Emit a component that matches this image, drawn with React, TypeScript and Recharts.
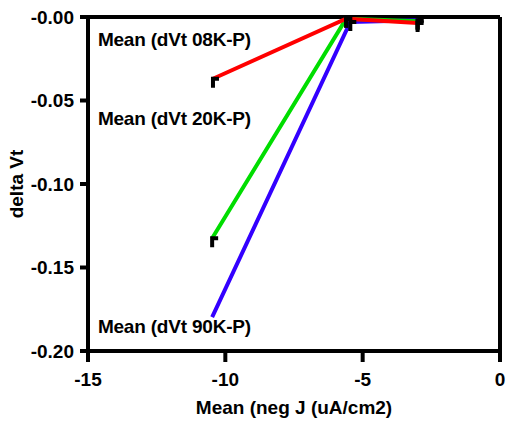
import React from 'react';
import { LineChart, Line, XAxis, YAxis, ReferenceLine, ReferenceDot, Label } from 'recharts';

// ---- data ----
const xTicks = [-15, -10, -5, 0];
const yTicks = [-0.2, -0.15, -0.1, -0.05, 0];
const yTickLabels = ['-0.20', '-0.15', '-0.10', '-0.05', '-0.00'];

const seriesNames = ['Mean (dVt 08K-P)', 'Mean (dVt 20K-P)', 'Mean (dVt 90K-P)'];
const seriesColors = ['#FF0000', '#00DD00', '#3300FF'];

const x08 = [-10.45, -5.6, -3.0];
const y08 = [-0.037, -0.001, -0.0036];
const e08 = [1, 1, 1];

const x20 = [-10.48, -5.6, -3.0];
const y20 = [-0.1325, -0.001, -0.0025];
const e20 = [1, 1, 1];

const x90 = [-10.48, -5.45, -3.0];
const y90 = [-0.1797, -0.003, -0.002];
const e90 = [0, 1, 1];

// label anchor positions (data coords)
const labelX = [-14.64, -14.64, -14.64];
const labelY = [-0.0131, -0.0609, -0.1852];

const build = (xs: number[], ys: number[], es: number[]) =>
  xs.map((x, i) => ({ x, y: ys[i], e: es[i] }));

const d08 = build(x08, y08, e08);
const d20 = build(x20, y20, e20);
const d90 = build(x90, y90, e90);

const FONT = '"Liberation Sans", Arial, sans-serif';
const FS = 19;

const ErrDot = (props: any) => {
  const { cx, cy, payload } = props;
  if (!payload || !payload.e || cx == null || cy == null) return <g />;
  return (
    <path
      d={`M${cx},${cy + 9} L${cx},${cy} L${cx + 6},${cy}`}
      stroke="#000"
      strokeWidth={4}
      fill="none"
    />
  );
};

const makeLabel = (text: string) => (props: any) => {
  const { cx, cy } = props;
  return (
    <text
      x={cx}
      y={cy}
      dy="0.35em"
      textAnchor="start"
      fontFamily={FONT}
      fontWeight="bold"
      fontSize={FS}
      letterSpacing={-0.2}
      fill="#000"
    >
      {text}
    </text>
  );
};

const yFmt = (v: number) => {
  const i = yTicks.findIndex((t) => Math.abs(t - v) < 1e-9);
  return i >= 0 ? yTickLabels[i] : String(v);
};

export default function App() {
  const tickStyle = { fontFamily: FONT, fontWeight: 'bold' as const, fontSize: FS, fill: '#000' };
  return (
    <div style={{ position: 'absolute', left: 0, top: 0, background: '#fff' }}>
      <LineChart
        width={509}
        height={423}
        margin={{ top: 17, right: 9, left: 0, bottom: 0 }}
      >
        <XAxis
          type="number"
          dataKey="x"
          domain={[-15, 0]}
          ticks={xTicks}
          allowDataOverflow
          axisLine={{ stroke: '#000', strokeWidth: 4 }}
          tickLine={{ stroke: '#000', strokeWidth: 4 }}
          tickSize={11}
          tickMargin={11}
          tick={tickStyle}
          height={72}
        >
          <Label
            value="Mean (neg J (uA/cm2)"
            position="insideBottom"
            offset={9}
            style={{ fontFamily: FONT, fontWeight: 'bold', fontSize: FS, fill: '#000' }}
          />
        </XAxis>
        <YAxis
          type="number"
          dataKey="y"
          domain={[-0.2, 0]}
          ticks={yTicks}
          allowDataOverflow
          tickFormatter={yFmt}
          axisLine={{ stroke: '#000', strokeWidth: 4 }}
          tickLine={{ stroke: '#000', strokeWidth: 4 }}
          tickSize={8}
          tickMargin={6}
          tick={tickStyle}
          width={88}
        >
          <Label
            value="delta Vt"
            angle={-90}
            position="insideLeft"
            offset={16}
            style={{ fontFamily: FONT, fontWeight: 'bold', fontSize: FS, fill: '#000', textAnchor: 'middle' }}
          />
        </YAxis>
        <ReferenceLine y={0} stroke="#000" strokeWidth={4} />
        <ReferenceLine x={0} stroke="#000" strokeWidth={4} />
        <Line
          data={d90}
          dataKey="y"
          stroke={seriesColors[2]}
          strokeWidth={4}
          dot={<ErrDot />}
          activeDot={false}
          isAnimationActive={false}
        />
        <Line
          data={d20}
          dataKey="y"
          stroke={seriesColors[1]}
          strokeWidth={4}
          dot={<ErrDot />}
          activeDot={false}
          isAnimationActive={false}
        />
        <Line
          data={d08}
          dataKey="y"
          stroke={seriesColors[0]}
          strokeWidth={4}
          dot={<ErrDot />}
          activeDot={false}
          isAnimationActive={false}
        />
        {seriesNames.map((n, i) => (
          <ReferenceDot
            key={n}
            x={labelX[i]}
            y={labelY[i]}
            r={0}
            shape={makeLabel(n)}
          />
        ))}
      </LineChart>
    </div>
  );
}
